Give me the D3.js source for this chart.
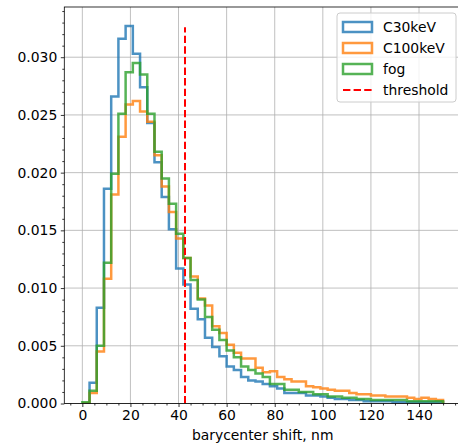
<!DOCTYPE html>
<html>
<head>
<meta charset="utf-8">
<script src="https://cdn.jsdelivr.net/npm/d3@7"></script>
<style>
html,body{margin:0;padding:0;background:#fff;}
svg{display:block;font-family:"DejaVu Sans",sans-serif;}
</style>
</head>
<body>
<div id="chart"></div>
<script>
// bins: width 3 from 0 to 150
const binEdges = d3.range(0, 151, 3);
const seriesNames = ["C30keV", "C100keV", "fog"];
const seriesColors = ["#1f77b4", "#ff7f0e", "#2ca02c"];
const c30keV = [0.0000,0.0018,0.0083,0.0186,0.0266,0.0316,0.0327,0.0303,0.0274,0.0243,
  0.0209,0.0179,0.0151,0.0117,0.0103,0.0082,0.0073,0.0057,0.0049,0.0041,
  0.0032,0.0029,0.0023,0.0020,0.0019,0.0017,0.0015,0.0013,0.0009,0.0009,
  0.0009,0.0007,0.0007,0.0006,0.0005,0.0004,0.0004,0.0003,0.0003,0.0002,
  0.0002,0.0002,0.0002,0.0001,0.0001,0.0001,0.0001,0.0001,0.0001,0.0001];
const c100keV = [0.0000,0.0009,0.0045,0.0108,0.0181,0.0231,0.0259,0.0262,0.0253,0.0244,
  0.0215,0.0188,0.0166,0.0143,0.0126,0.0110,0.0091,0.0085,0.0067,0.0061,
  0.0051,0.0044,0.0039,0.0039,0.0031,0.0027,0.0028,0.0023,0.0021,0.0019,
  0.0019,0.0015,0.0014,0.0013,0.0012,0.0011,0.0011,0.0009,0.0008,0.0008,
  0.0007,0.0007,0.0006,0.0006,0.0006,0.0005,0.0004,0.0005,0.0004,0.0003];
const fog = [0.0001,0.0011,0.0050,0.0122,0.0199,0.0251,0.0287,0.0295,0.0285,0.0251,
  0.0218,0.0195,0.0173,0.0147,0.0126,0.0107,0.0090,0.0075,0.0064,0.0055,
  0.0046,0.0040,0.0032,0.0029,0.0026,0.0023,0.0017,0.0017,0.0012,0.0012,
  0.0010,0.0010,0.0008,0.0008,0.0006,0.0006,0.0005,0.0005,0.0004,0.0004,
  0.0003,0.0003,0.0003,0.0003,0.0003,0.0002,0.0002,0.0002,0.0002,0.0002];
const thresholdX = 42.7;
const thresholdTop = 0.0326;
const xTicks = [0, 20, 40, 60, 80, 100, 120, 140];
const yTicks = [0, 0.005, 0.010, 0.015, 0.020, 0.025, 0.030];
const xLabel = "barycenter shift, nm";

const W = 458, H = 443;
const pLeft = 64.3, pRight = 461.1, pTop = 7, pBottom = 403.5;

const svg = d3.select("#chart").append("svg").attr("width", W).attr("height", H);

const x = d3.scaleLinear().domain([-7.5, 157.5]).range([pLeft, pRight]);
const y = d3.scaleLinear().domain([0, 0.03435]).range([pBottom, pTop]);

svg.append("defs").append("clipPath").attr("id", "clip")
  .append("rect").attr("x", pLeft).attr("y", pTop).attr("width", pRight - pLeft).attr("height", pBottom - pTop);

// grid
const grid = svg.append("g");
grid.selectAll("line.gx").data(xTicks).join("line")
  .attr("x1", d => x(d)).attr("x2", d => x(d)).attr("y1", pTop).attr("y2", pBottom)
  .attr("stroke", "#b0b0b0").attr("stroke-width", 0.8);
grid.selectAll("line.gy").data(yTicks).join("line")
  .attr("x1", pLeft).attr("x2", pRight).attr("y1", d => y(d)).attr("y2", d => y(d))
  .attr("stroke", "#b0b0b0").attr("stroke-width", 0.8);

// histograms
const plot = svg.append("g").attr("clip-path", "url(#clip)");
const allSeries = [c30keV, c100keV, fog];
const line = d3.line().x(d => x(d[0])).y(d => y(d[1]));
allSeries.forEach((vals, i) => {
  const pts = [[binEdges[0], 0]];
  vals.forEach((v, j) => { pts.push([binEdges[j], v]); pts.push([binEdges[j + 1], v]); });
  pts.push([binEdges[binEdges.length - 1], 0]);
  plot.append("path").attr("d", line(pts)).attr("fill", "none")
    .attr("stroke", seriesColors[i]).attr("stroke-width", 2.5)
    .attr("stroke-opacity", 0.8).attr("stroke-linejoin", "miter");
});
plot.append("line")
  .attr("x1", x(thresholdX)).attr("x2", x(thresholdX))
  .attr("y1", y(0)).attr("y2", y(thresholdTop))
  .attr("stroke", "red").attr("stroke-width", 2).attr("stroke-dasharray", "7.4,3.2");

// axes
const xAxis = d3.axisBottom(x).tickValues(xTicks).tickFormat(d3.format("d")).tickSize(3.5).tickPadding(3.5);
const xMinor = d3.axisBottom(x).tickValues(d3.range(-5, 156, 5).filter(v => v % 20 !== 0)).tickSize(2).tickFormat("");
const yAxis = d3.axisLeft(y).tickValues(yTicks).tickFormat(d3.format(".3f")).tickSize(3.5).tickPadding(3.5);
const yMinor = d3.axisLeft(y).tickValues(d3.range(0, 0.0344, 0.001).filter((v, i) => i % 5 !== 0)).tickSize(2).tickFormat("");

function style(g) {
  g.select(".domain").remove();
  g.selectAll("line").attr("stroke", "#000").attr("stroke-width", 0.8);
  g.selectAll("text").attr("fill", "#000").attr("font-size", "13.9px").attr("font-family", "DejaVu Sans");
}
svg.append("g").attr("transform", `translate(0,${pBottom})`).call(xAxis).call(style);
svg.append("g").attr("transform", `translate(0,${pBottom})`).call(xMinor).call(style);
svg.append("g").attr("transform", `translate(${pLeft},0)`).call(yAxis).call(style);
svg.append("g").attr("transform", `translate(${pLeft},0)`).call(yMinor).call(style);

// spines
svg.append("rect").attr("x", pLeft).attr("y", pTop).attr("width", pRight - pLeft).attr("height", pBottom - pTop)
  .attr("fill", "none").attr("stroke", "#000").attr("stroke-width", 0.8);

svg.append("text").attr("x", (pLeft + pRight) / 2).attr("y", 440)
  .attr("text-anchor", "middle").attr("font-size", "13.9px").attr("fill", "#000").text(xLabel);

// legend
const lg = svg.append("g");
lg.append("rect").attr("x", 337).attr("y", 13).attr("width", 119).attr("height", 89).attr("rx", 3)
  .attr("fill", "#fff").attr("fill-opacity", 0.8).attr("stroke", "#cccccc").attr("stroke-width", 1);
const entries = seriesNames.map((n, i) => ({name: n, color: seriesColors[i], type: "patch"}))
  .concat([{name: "threshold", color: "red", type: "line"}]);
entries.forEach((e, i) => {
  const cy = 27 + i * 21;
  if (e.type === "patch") {
    lg.append("rect").attr("x", 343).attr("y", cy - 5).attr("width", 29).attr("height", 10)
      .attr("fill", "none").attr("stroke", e.color).attr("stroke-width", 2.5).attr("stroke-opacity", 0.8);
  } else {
    lg.append("line").attr("x1", 343).attr("x2", 372).attr("y1", cy).attr("y2", cy)
      .attr("stroke", e.color).attr("stroke-width", 2).attr("stroke-dasharray", "7.4,3.2");
  }
  lg.append("text").attr("x", 383).attr("y", cy + 5).attr("font-size", "13.9px").attr("fill", "#000").text(e.name);
});
</script>
</body>
</html>
